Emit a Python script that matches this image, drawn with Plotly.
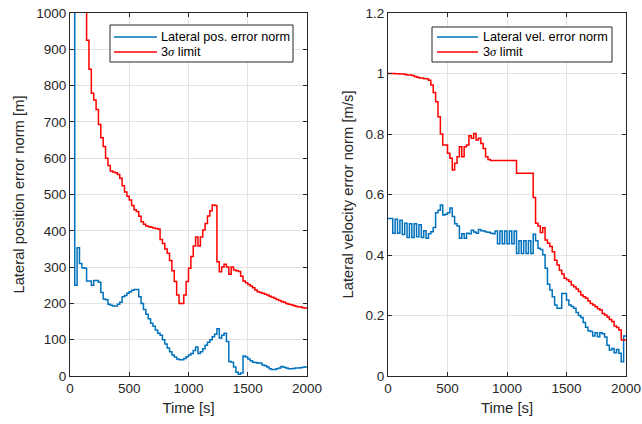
import plotly.graph_objects as go

# time samples [s]
time_s = list(range(0, 2001, 20))

pos_err = [1500, 1500, 250, 353, 310, 298, 297, 262, 262, 250,
           263, 263, 258, 230, 212, 210, 198, 195, 193, 193,
           198, 203, 218, 222, 228, 232, 236, 238, 238, 218,
           200, 183, 170, 158, 145, 137, 127, 118, 112, 100,
           88, 77, 67, 58, 52, 47, 45, 45, 48, 53,
           58, 62, 70, 80, 62, 67, 75, 85, 93, 100,
           108, 115, 130, 105, 112, 118, 95, 40, 38, 25,
           10, 5, 8, 55, 52, 47, 42, 38, 37, 35,
           36, 30, 28, 25, 20, 18, 18, 20, 22, 26,
           24, 22, 20, 20, 21, 22, 22, 23, 24, 25, 27]

pos_3sig = [1500, 1450, 1400, 1350, 1300, 1200, 1100, 925, 845, 779,
            760, 734, 693, 656, 632, 600, 580, 565, 562, 560,
            555, 545, 524, 507, 495, 485, 470, 458, 453, 440,
            425, 418, 413, 411, 410, 408, 406, 405, 376, 365,
            350, 338, 318, 290, 260, 223, 200, 200, 223, 260,
            297, 329, 358, 383, 358, 383, 402, 420, 441, 455,
            471, 470, 315, 287, 300, 308, 300, 280, 300, 292,
            290, 288, 275, 262, 257, 252, 248, 243, 237, 232,
            230, 228, 225, 223, 220, 217, 214, 211, 208, 205,
            203, 200, 198, 196, 194, 192, 191, 190, 188, 187, 186]

vel_err = [0.521, 0.521, 0.472, 0.518, 0.472, 0.515, 0.468, 0.505, 0.458, 0.503,
           0.458, 0.503, 0.460, 0.500, 0.458, 0.480, 0.455, 0.470, 0.477, 0.491,
           0.540, 0.548, 0.565, 0.532, 0.535, 0.540, 0.555, 0.527, 0.503, 0.496,
           0.455, 0.470, 0.455, 0.472, 0.470, 0.482, 0.476, 0.472, 0.484, 0.480,
           0.479, 0.476, 0.475, 0.472, 0.470, 0.479, 0.437, 0.479, 0.437, 0.479,
           0.437, 0.479, 0.437, 0.479, 0.405, 0.447, 0.405, 0.447, 0.405, 0.447,
           0.405, 0.469, 0.447, 0.422, 0.418, 0.401, 0.356, 0.303, 0.284, 0.262,
           0.235, 0.224, 0.224, 0.273, 0.273, 0.251, 0.235, 0.230, 0.224, 0.210,
           0.200, 0.193, 0.177, 0.161, 0.150, 0.147, 0.132, 0.143, 0.130, 0.143,
           0.140, 0.129, 0.102, 0.086, 0.091, 0.077, 0.088, 0.075, 0.047, 0.132, 0.132]

vel_3sig = [1.000, 1.000, 1.000, 0.999, 0.999, 0.998, 0.998, 0.997, 0.995, 0.995,
            0.993, 0.990, 0.988, 0.985, 0.985, 0.983, 0.983, 0.978, 0.962, 0.937,
            0.907, 0.857, 0.800, 0.764, 0.764, 0.736, 0.720, 0.681, 0.703, 0.725,
            0.758, 0.725, 0.758, 0.764, 0.794, 0.786, 0.802, 0.780, 0.786, 0.769,
            0.752, 0.725, 0.716, 0.712, 0.712, 0.712, 0.712, 0.712, 0.712, 0.712,
            0.712, 0.712, 0.712, 0.712, 0.670, 0.670, 0.670, 0.670, 0.670, 0.670,
            0.670, 0.590, 0.505, 0.496, 0.474, 0.490, 0.450, 0.439, 0.428, 0.411,
            0.383, 0.367, 0.350, 0.337, 0.323, 0.318, 0.312, 0.301, 0.295, 0.288,
            0.279, 0.268, 0.262, 0.257, 0.248, 0.240, 0.235, 0.229, 0.222, 0.218,
            0.207, 0.202, 0.195, 0.187, 0.180, 0.165, 0.160, 0.152, 0.119, 0.119, 0.119]

x_ticks = [0, 500, 1000, 1500, 2000]
pos_ticks = list(range(0, 1001, 100))
vel_ticks = [0, 0.2, 0.4, 0.6, 0.8, 1.0, 1.2]
vel_tick_labels = ["0", "0.2", "0.4", "0.6", "0.8", "1", "1.2"]

W, H = 642, 424
BLUE = "#0072BD"
RED = "#FF0000"
FONT = "Liberation Sans, Arial, Helvetica, sans-serif"
AX = "#262626"
GRID = "#e3e3e3"
SIGMA = "3<span style=\"font-family:'Liberation Serif', 'Times New Roman', serif\"><i>σ</i></span> limit"

fig = go.Figure()
fig.add_trace(go.Scatter(x=time_s, y=pos_err, mode="lines", line=dict(color=BLUE, width=1.5, shape="hv"),
                         name="Lateral pos. error norm", xaxis="x", yaxis="y", showlegend=False))
fig.add_trace(go.Scatter(x=time_s, y=pos_3sig, mode="lines", line=dict(color=RED, width=1.5, shape="hv"),
                         name="3σ limit", xaxis="x", yaxis="y", showlegend=False))
fig.add_trace(go.Scatter(x=time_s, y=vel_err, mode="lines", line=dict(color=BLUE, width=1.5, shape="hv"),
                         name="Lateral vel. error norm", xaxis="x2", yaxis="y2", showlegend=False))
fig.add_trace(go.Scatter(x=time_s, y=vel_3sig, mode="lines", line=dict(color=RED, width=1.5, shape="hv"),
                         name="3σ limit", xaxis="x2", yaxis="y2", showlegend=False))

common_ax = dict(showline=True, linecolor=AX, linewidth=1, mirror="ticks", ticks="inside", ticklen=4,
                 tickcolor=AX, showgrid=True, gridcolor=GRID, gridwidth=1, zeroline=False, automargin=False,
                 tickfont=dict(family=FONT, size=13.5, color=AX))
title_font = dict(family=FONT, size=14.8, color=AX)

fig.update_layout(
    width=W, height=H,
    margin=dict(l=0, r=0, t=0, b=0),
    paper_bgcolor="white", plot_bgcolor="white",
    font=dict(family=FONT, color=AX),
    showlegend=False,
    xaxis=dict(domain=[70 / W, 307 / W], range=[0, 2000], tickvals=x_ticks, anchor="y",
               title=dict(text="Time [s]", font=title_font, standoff=7), **common_ax),
    yaxis=dict(domain=[48 / H, 411 / H], range=[0, 1000], tickvals=pos_ticks, anchor="x",
               title=dict(text="Lateral position error norm [m]", font=title_font, standoff=8), **common_ax),
    xaxis2=dict(domain=[388 / W, 626 / W], range=[0, 2000], tickvals=x_ticks, anchor="y2",
                title=dict(text="Time [s]", font=title_font, standoff=7), **common_ax),
    yaxis2=dict(domain=[48 / H, 411 / H], range=[0, 1.2], tickvals=vel_ticks, ticktext=vel_tick_labels,
                anchor="x2", title=dict(text="Lateral velocity error norm [m/s]", font=title_font, standoff=8),
                **common_ax),
)

# legend boxes (drawn in paper coordinates, pixel-based placement)
def px(x):
    return x / W

def py(y):
    return 1 - y / H

legends = [
    dict(box=(110, 25, 293, 62), line=(114, 157), text_x=160,
         items=[("Lateral pos. error norm", BLUE, 37), (SIGMA, RED, 52)]),
    dict(box=(432, 27, 612, 62), line=(437, 478), text_x=482,
         items=[("Lateral vel. error norm", BLUE, 37), (SIGMA, RED, 52)]),
]
for lg in legends:
    x0, y0, x1, y1 = lg["box"]
    fig.add_shape(type="rect", xref="paper", yref="paper", x0=px(x0), x1=px(x1), y0=py(y1), y1=py(y0),
                  line=dict(color=AX, width=1), fillcolor="white", layer="above")
    for label, color, yy in lg["items"]:
        fig.add_shape(type="line", xref="paper", yref="paper", x0=px(lg["line"][0]), x1=px(lg["line"][1]),
                      y0=py(yy), y1=py(yy), line=dict(color=color, width=1.5), layer="above")
        fig.add_annotation(xref="paper", yref="paper", x=px(lg["text_x"]), y=py(yy), text=label,
                           showarrow=False, xanchor="left", yanchor="middle", borderpad=0,
                           font=dict(family=FONT, size=12.7, color="black"))

fig.write_html("out.html")
